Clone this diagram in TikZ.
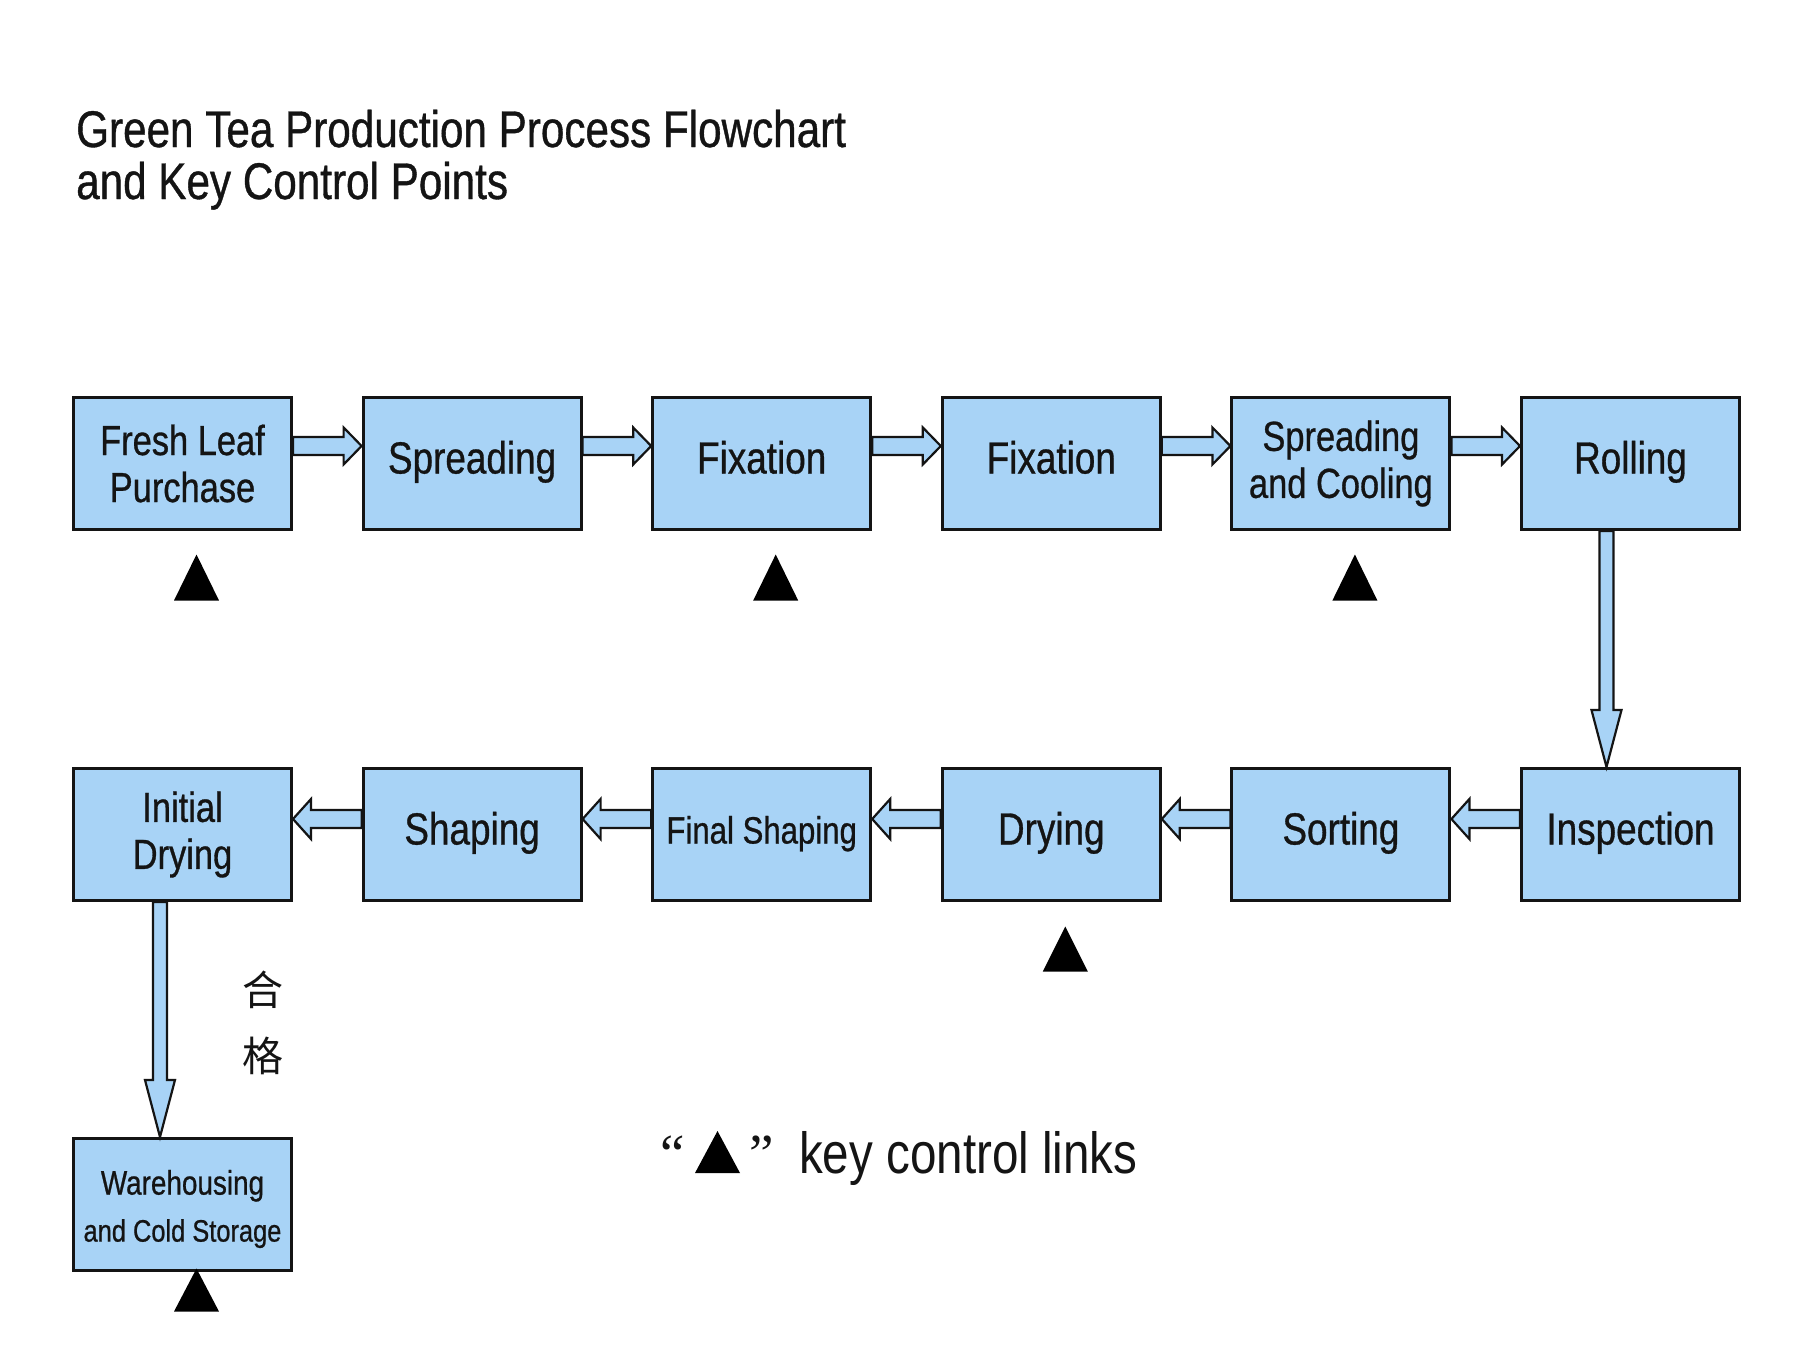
\documentclass[tikz,border=0pt]{standalone}
\usepackage{fontspec}
\setmainfont{Liberation Sans}[FakeStretch=0.82]
\newfontfamily\boxfont{Liberation Sans}[FakeStretch=0.82, FakeBold=0.7]
\newfontfamily\quotefont{Liberation Serif}
\newfontfamily\cjk{Noto Sans CJK SC}
\usetikzlibrary{calc}
\definecolor{boxblue}{RGB}{168,211,246}
\definecolor{ink}{RGB}{20,20,20}
\tikzset{
  procbox/.style={draw=ink, line width=3pt, fill=boxblue, minimum width=218pt,
    minimum height=132pt, inner sep=0pt, align=center, text=ink,
    font=\boxfont\fontsize{45}{50}\selectfont},
  oneline/.style={text height=34pt, text depth=14pt},
  twoline/.style={font=\boxfont\fontsize{42}{47}\selectfont},
  flowarrow/.style={draw=ink, line width=2.2pt, fill=boxblue, line join=miter},
  keymark/.style={fill=black},
  titletext/.style={anchor=base west, inner sep=0pt, text=ink, font=\boxfont\fontsize{51.5}{56}\selectfont},
}
% right-pointing block arrow from #1 to #2
\newcommand\rarrow[2]{%
  \draw[flowarrow] ($(#1.east)+(0,-26.5)$) -- ($(#2.west)+(-18,-26.5)$)
    -- ($(#2.west)+(-18,-36)$) -- ($(#2.west)+(0,-17.5)$)
    -- ($(#2.west)+(-18,1)$) -- ($(#2.west)+(-18,-8.5)$)
    -- ($(#1.east)+(0,-8.5)$) -- cycle;}
% left-pointing block arrow from #1 (right box) to #2 (left box)
\newcommand\larrow[2]{%
  \draw[flowarrow] ($(#1.west)+(0,-24.5)$) -- ($(#2.east)+(18,-24.5)$)
    -- ($(#2.east)+(18,-35.5)$) -- ($(#2.east)+(0,-15.5)$)
    -- ($(#2.east)+(18,4.5)$) -- ($(#2.east)+(18,-6.5)$)
    -- ($(#1.west)+(0,-6.5)$) -- cycle;}
% downward block arrow from #1 to #2, x offset #3
\newcommand\darrow[3]{%
  \draw[flowarrow] ($(#1.south)+(#3-7,0)$) -- ($(#2.north)+(#3-7,-57)$)
    -- ($(#2.north)+(#3-15,-57)$) -- ($(#2.north)+(#3,0)$)
    -- ($(#2.north)+(#3+15,-57)$) -- ($(#2.north)+(#3+7,-57)$)
    -- ($(#1.south)+(#3+7,0)$) -- cycle;}
% key control triangle below node #1, apex at offset #2, height #3
\newcommand\keytri[3]{%
  \fill[keymark] ($(#1.south)+(14,#2)$) -- ($(#1.south)+(36.5,#2+#3)$)
    -- ($(#1.south)+(-8.5,#2+#3)$) -- cycle;}
\begin{document}
\begin{tikzpicture}[x=1pt,y=-1pt]
\useasboundingbox (0,0) rectangle (1800,1357);
\fill[white] (0,0) rectangle (1800,1357);

% title
\node[titletext] (title1) at (76,147) {Green Tea Production Process Flowchart};
\node[titletext] (title2) at (76,199) {and Key Control Points};

% row 1
\node[procbox, twoline] (fresh)   at (182.5,463.5) {Fresh Leaf\\Purchase};
\node[procbox, oneline] (spread)  at (472.1,463.5) {Spreading};
\node[procbox, oneline] (fix1)    at (761.7,463.5) {Fixation};
\node[procbox, oneline] (fix2)    at (1051.3,463.5) {Fixation};
\node[procbox, twoline] (spcool)  at (1340.9,463.5) {Spreading\\and Cooling};
\node[procbox, oneline] (rolling) at (1630.5,463.5) {Rolling};

% row 2
\node[procbox, twoline] (idry)    at (182.5,834.5) {Initial\\Drying};
\node[procbox, oneline] (shaping) at (472.1,834.5) {Shaping};
\node[procbox, font=\boxfont\fontsize{38}{44}\selectfont, text height=29pt, text depth=11pt] (fshape) at (761.7,834.5) {Final Shaping};
\node[procbox, oneline] (drying)  at (1051.3,834.5) {Drying};
\node[procbox, oneline] (sorting) at (1340.9,834.5) {Sorting};
\node[procbox, oneline] (inspect) at (1630.5,834.5) {Inspection};

% storage
\node[procbox, label={[align=center, text=ink, inner sep=0pt, yshift=-4.5pt,
    font=\boxfont\fontsize{34}{47}\selectfont]center:Warehousing\\{\fontsize{31}{47}\selectfont and Cold Storage}}]
  (store) at (182.5,1204.5) {};

% connectors
\rarrow{fresh}{spread}
\rarrow{spread}{fix1}
\rarrow{fix1}{fix2}
\rarrow{fix2}{spcool}
\rarrow{spcool}{rolling}
\darrow{rolling}{inspect}{-24}
\larrow{inspect}{sorting}
\larrow{sorting}{drying}
\larrow{drying}{fshape}
\larrow{fshape}{shaping}
\larrow{shaping}{idry}
\darrow{idry}{store}{-22.5}

% qualified label
\node[text=ink, align=center, inner sep=0pt, font=\cjk\fontsize{41}{66}\selectfont]
  (pass) at (263,1023) {合\\格};

% key control marks
\keytri{fresh}{23.5}{46}
\keytri{fix1}{23.5}{46}
\keytri{spcool}{23.5}{46}
\keytri{drying}{24.5}{45}
\keytri{store}{-3.5}{43}

% legend
\node[anchor=base, inner sep=0pt, text=ink, font=\quotefont\fontsize{55}{60}\selectfont]
  (lq) at (673,1172) {“};
\fill[keymark] (695,1173) -- (740,1173) -- (717.5,1131) -- cycle;
\node[anchor=base, inner sep=0pt, text=ink, font=\quotefont\fontsize{55}{60}\selectfont]
  (rq) at (762,1172) {”};
\node[anchor=base west, inner sep=0pt, text=ink, font=\fontsize{58}{62}\selectfont]
  (legend) at (799,1173) {key control links};
\end{tikzpicture}
\end{document}
